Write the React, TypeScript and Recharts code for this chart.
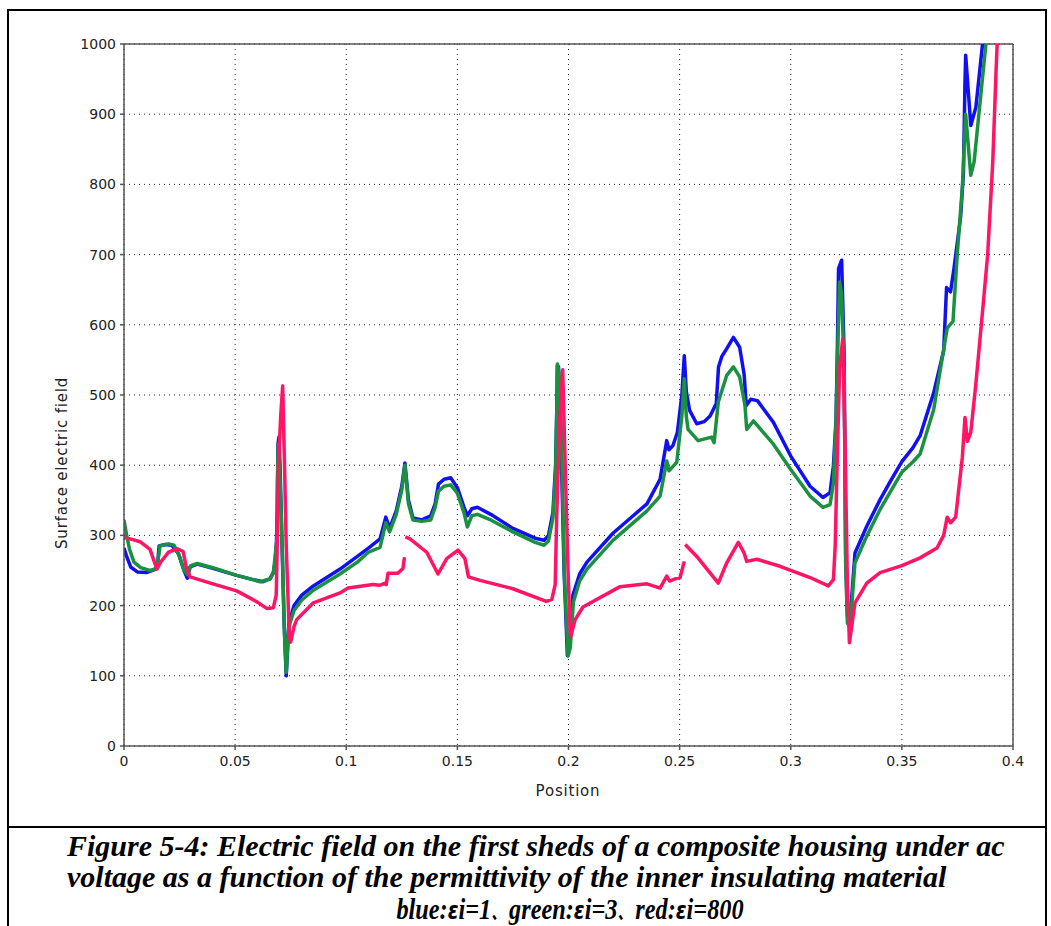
import { LineChart, Line, XAxis, YAxis, CartesianGrid, ReferenceLine } from "recharts";

// position (m) / surface electric field
const blue: [number, number][] = [
  [0, 282], [0.0012, 270], [0.003, 255], [0.006, 248], [0.01, 247], [0.0135, 251], [0.015, 254],
  [0.0158, 285], [0.0185, 287], [0.0215, 286], [0.0245, 274], [0.027, 250], [0.0285, 239],
  [0.0297, 255], [0.033, 259], [0.04, 253], [0.0507, 243], [0.058, 237], [0.0625, 234],
  [0.0657, 238], [0.0672, 247], [0.068, 262], [0.0686, 290], [0.069, 340], [0.0693, 430],
  [0.0697, 440], [0.0702, 400], [0.071, 300], [0.072, 180], [0.073, 100], [0.0735, 130],
  [0.0742, 175], [0.0765, 200], [0.08, 215], [0.0852, 228], [0.0972, 252], [0.105, 270],
  [0.11, 282], [0.1152, 295], [0.1178, 326], [0.1195, 310], [0.1225, 335], [0.125, 370],
  [0.1264, 403], [0.128, 350], [0.13, 325], [0.134, 322], [0.138, 328], [0.14, 345],
  [0.1415, 373], [0.144, 380], [0.147, 382], [0.15, 368], [0.153, 340], [0.1545, 328],
  [0.1565, 338], [0.159, 340], [0.165, 330], [0.175, 310], [0.185, 296], [0.189, 293],
  [0.191, 300], [0.193, 333], [0.1942, 400], [0.1947, 476], [0.195, 542], [0.1955, 540],
  [0.1965, 450], [0.198, 250], [0.1995, 129], [0.2005, 140], [0.202, 215], [0.205, 245],
  [0.2083, 262], [0.22, 303], [0.2353, 345], [0.2412, 380], [0.2442, 435], [0.2452, 422],
  [0.247, 428], [0.249, 447], [0.251, 500], [0.2521, 556], [0.253, 505], [0.2545, 478],
  [0.2577, 459], [0.261, 462], [0.2637, 470], [0.2665, 488], [0.2675, 540], [0.269, 555],
  [0.2712, 566], [0.2742, 582], [0.277, 568], [0.279, 530], [0.28, 485], [0.282, 494],
  [0.285, 492], [0.2922, 461], [0.3, 413], [0.3087, 370], [0.3145, 354], [0.3177, 361],
  [0.3192, 399], [0.3204, 466], [0.321, 570], [0.3215, 680], [0.3229, 692], [0.324, 561],
  [0.3247, 275], [0.3255, 185], [0.3267, 180], [0.3289, 275], [0.3342, 313], [0.3402, 351],
  [0.345, 378], [0.35, 405], [0.355, 425], [0.3582, 442], [0.3643, 503], [0.3688, 563],
  [0.3701, 653], [0.3719, 647], [0.3734, 679], [0.3764, 753], [0.3777, 816], [0.3784, 947],
  [0.3787, 984], [0.381, 884], [0.3833, 910], [0.3863, 1000], [0.3875, 1060],
];

const green: [number, number][] = [
  [0, 322], [0.0012, 300], [0.0025, 280], [0.0045, 262], [0.0075, 254], [0.0117, 250],
  [0.0148, 253], [0.0162, 285], [0.02, 288], [0.0225, 286], [0.025, 270], [0.027, 250],
  [0.0287, 244], [0.03, 257], [0.033, 260], [0.04, 254], [0.0507, 243], [0.058, 237],
  [0.0612, 234], [0.0657, 238], [0.0672, 247], [0.068, 270], [0.0688, 294], [0.069, 375],
  [0.0694, 430], [0.07, 400], [0.0712, 280], [0.0722, 160], [0.073, 105], [0.0736, 140],
  [0.0742, 170], [0.0765, 193], [0.08, 208], [0.0852, 222], [0.0972, 245], [0.105, 262],
  [0.11, 276], [0.1152, 283], [0.1178, 318], [0.1195, 305], [0.1225, 330], [0.125, 365],
  [0.1264, 400], [0.128, 345], [0.13, 322], [0.134, 320], [0.138, 322], [0.14, 340],
  [0.1415, 363], [0.144, 370], [0.147, 372], [0.15, 360], [0.153, 332], [0.1545, 312],
  [0.1565, 328], [0.159, 330], [0.165, 322], [0.175, 305], [0.185, 290], [0.189, 286],
  [0.191, 292], [0.193, 325], [0.1942, 390], [0.1947, 470], [0.195, 544], [0.1958, 530],
  [0.1968, 440], [0.1982, 240], [0.1998, 128], [0.2008, 140], [0.2022, 205], [0.205, 235],
  [0.2083, 252], [0.22, 293], [0.2353, 335], [0.2412, 356], [0.2442, 406], [0.2452, 392],
  [0.2487, 404], [0.251, 470], [0.2521, 523], [0.253, 470], [0.2538, 451], [0.2583, 435],
  [0.2644, 440], [0.2655, 432], [0.2674, 490], [0.2712, 528], [0.2742, 540], [0.277, 526],
  [0.2794, 485], [0.2802, 451], [0.2832, 463], [0.2922, 430], [0.3, 394], [0.3087, 356],
  [0.3145, 340], [0.3177, 344], [0.3192, 375], [0.3204, 466], [0.321, 551], [0.322, 661],
  [0.3229, 642], [0.324, 540], [0.3247, 260], [0.3255, 175], [0.3267, 170], [0.3289, 261],
  [0.3342, 299], [0.3402, 337], [0.345, 363], [0.35, 390], [0.355, 405], [0.3582, 416],
  [0.3643, 479], [0.3704, 595], [0.3716, 600], [0.373, 605], [0.3749, 700], [0.3772, 795],
  [0.3787, 900], [0.381, 813], [0.3825, 832], [0.3878, 1000], [0.389, 1050],
];

// null = break in the red curve
const red: [number, number | null][] = [
  [0, 297], [0.004, 294], [0.0072, 291], [0.0117, 280], [0.0148, 252], [0.0165, 262],
  [0.02, 276], [0.024, 281], [0.0266, 277], [0.0282, 252], [0.0297, 241], [0.04, 231],
  [0.0507, 221], [0.06, 205], [0.0642, 196], [0.0672, 197], [0.0685, 215], [0.069, 294],
  [0.0695, 400], [0.0705, 470], [0.0714, 513], [0.0722, 404], [0.073, 285], [0.0744, 156],
  [0.075, 148], [0.0765, 170], [0.0777, 180], [0.0852, 204], [0.0972, 218], [0.1008, 225],
  [0.112, 230], [0.1152, 229], [0.1175, 232], [0.118, 230], [0.1188, 246], [0.1232, 246],
  [0.1255, 253], [0.1262, 269], [0.1264, null], [0.1266, 298], [0.1287, 295], [0.1362, 276],
  [0.1413, 245], [0.1452, 267], [0.1503, 279], [0.1534, 267], [0.155, 241], [0.1602, 236],
  [0.175, 224], [0.19, 206], [0.1925, 209], [0.194, 230], [0.1947, 327], [0.196, 460],
  [0.1974, 536], [0.1985, 400], [0.1998, 250], [0.2007, 165], [0.201, 156], [0.203, 180],
  [0.2065, 198], [0.2232, 227], [0.2353, 231], [0.2412, 225], [0.2442, 242], [0.2455, 235],
  [0.248, 238], [0.2502, 240], [0.2521, 263], [0.2523, null], [0.2525, 287], [0.2577, 270],
  [0.2674, 232], [0.2712, 261], [0.2764, 290], [0.279, 275], [0.2802, 263], [0.2847, 266],
  [0.2952, 256], [0.3087, 240], [0.3169, 228], [0.3192, 237], [0.32, 285], [0.3207, 380],
  [0.322, 540], [0.3234, 580], [0.3245, 420], [0.3255, 230], [0.3264, 147], [0.3289, 204],
  [0.3342, 232], [0.3402, 247], [0.35, 257], [0.3582, 268], [0.3658, 282], [0.3688, 300],
  [0.3704, 326], [0.3719, 318], [0.3742, 326], [0.3772, 411], [0.3784, 468], [0.3795, 434],
  [0.381, 447], [0.3833, 516], [0.3871, 647], [0.3886, 700], [0.3909, 832], [0.3924, 963],
  [0.3935, 1050],
];

const xTicks = [0, 0.05, 0.1, 0.15, 0.2, 0.25, 0.3, 0.35, 0.4];
const yTicks = [0, 100, 200, 300, 400, 500, 600, 700, 800, 900, 1000];

const toRows = (pts: [number, number | null][]) => pts.map(([x, y]) => ({ x, y }));

const tickFont = { fontFamily: "DejaVu Sans", fontSize: 14, fill: "#222" };
const axisColor = "#555";

const YLabel = () => (
  <text x={62} y={463} transform="rotate(-90 62 463)" textAnchor="middle" dominantBaseline="central"
    fontFamily="DejaVu Sans" fontSize={15} letterSpacing={0.8} fill="#222">
    Surface electric field
  </text>
);

const XLabel = () => (
  <text x={568} y={791} textAnchor="middle" dominantBaseline="central"
    fontFamily="DejaVu Sans" fontSize={15} letterSpacing={0.8} fill="#222">
    Position
  </text>
);

const caption = {
  position: "absolute" as const,
  fontFamily: "'Liberation Serif', 'Times New Roman', serif",
  fontWeight: "bold",
  fontStyle: "italic",
  fontSize: 30,
  lineHeight: "32px",
  color: "#000",
  whiteSpace: "nowrap" as const,
};

const eps = { fontFamily: "DejaVu Sans", fontStyle: "italic" as const, fontSize: 24 };
const sep = { fontFamily: "'Noto Sans CJK SC'", fontSize: 18, marginRight: 4 };

export default function App() {
  return (
    <div style={{ position: "absolute", left: 0, top: 0, width: 1051, height: 926, background: "#fff" }}>
      <LineChart width={1051} height={826} margin={{ top: 44, right: 38, left: 64, bottom: 20 }}>
        <CartesianGrid stroke="#222" strokeDasharray="1 4" />
        <XAxis type="number" dataKey="x" domain={[0, 0.4]} ticks={xTicks} allowDataOverflow
          tickFormatter={(v: number) => String(Math.round(v * 100) / 100)}
          height={60} tick={tickFont} tickSize={4} tickMargin={6}
          stroke={axisColor} strokeWidth={1.5} label={<XLabel />} />
        <YAxis type="number" dataKey="y" domain={[0, 1000]} ticks={yTicks} allowDataOverflow
          width={60} tick={tickFont} tickSize={4} tickMargin={4}
          stroke={axisColor} strokeWidth={1.5} label={<YLabel />} />
        <ReferenceLine y={1000} stroke={axisColor} strokeWidth={1.5} />
        <ReferenceLine x={0.4} stroke={axisColor} strokeWidth={1.5} />
        <Line data={toRows(blue)} dataKey="y" stroke="#1010f0" strokeWidth={3.5} dot={false}
          isAnimationActive={false} strokeLinejoin="round" />
        <Line data={toRows(green)} dataKey="y" stroke="#1a9140" strokeWidth={3.5} dot={false}
          isAnimationActive={false} strokeLinejoin="round" />
        <Line data={toRows(red)} dataKey="y" stroke="#ff1466" strokeWidth={3.5} dot={false}
          isAnimationActive={false} strokeLinejoin="round" />
      </LineChart>

      <div style={{ position: "absolute", left: 7, top: 9, width: 1040, height: 2, background: "#000" }} />
      <div style={{ position: "absolute", left: 7, top: 9, width: 2, height: 917, background: "#000" }} />
      <div style={{ position: "absolute", left: 1045, top: 9, width: 2, height: 917, background: "#000" }} />
      <div style={{ position: "absolute", left: 7, top: 826, width: 1040, height: 2, background: "#000" }} />

      <div style={{ ...caption, left: 67, top: 830 }}>
        Figure 5-4: Electric field on the first sheds of a composite housing under ac
      </div>
      <div style={{ ...caption, left: 67, top: 861 }}>
        voltage as a function of the permittivity of the inner insulating material
      </div>
      <div style={{ ...caption, left: 570, top: 893, transform: "translateX(-50%) scaleX(0.81)" }}>
        blue:<span style={eps}>ε</span>i=1<span style={sep}>、</span>green:<span style={eps}>ε</span>i=3<span style={sep}>、</span>red:<span style={eps}>ε</span>i=800
      </div>
    </div>
  );
}
